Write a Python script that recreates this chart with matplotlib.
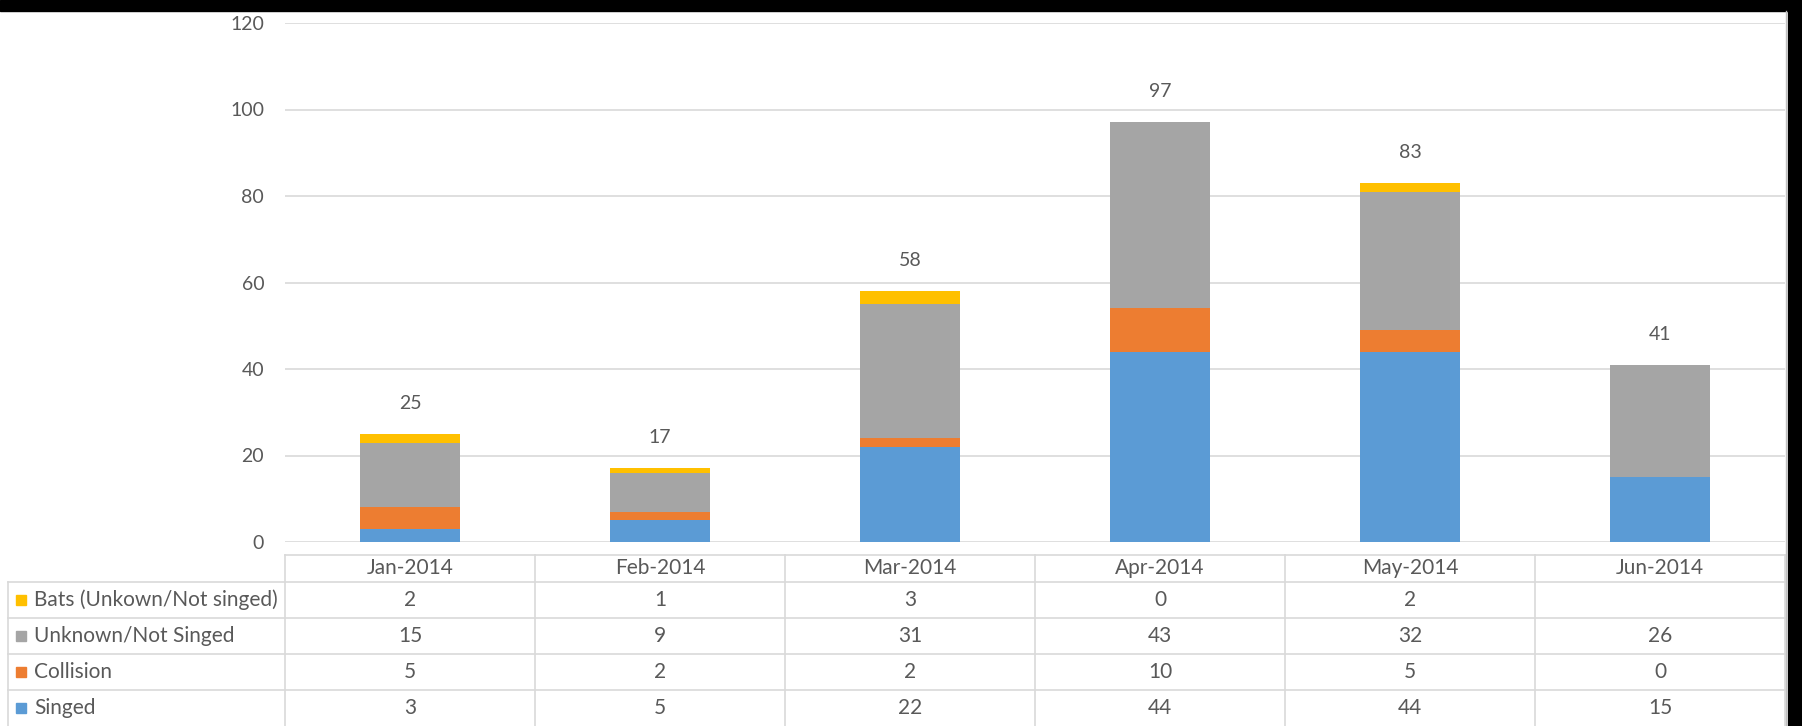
import matplotlib
matplotlib.use("Agg")
import matplotlib.pyplot as plt
import numpy as np

months = ["Jan-2014", "Feb-2014", "Mar-2014", "Apr-2014", "May-2014", "Jun-2014"]
singed = [3, 5, 22, 44, 44, 15]
collision = [5, 2, 2, 10, 5, 0]
unknown = [15, 9, 31, 43, 32, 26]
bats = [2, 1, 3, 0, 2, None]

series_names = ["Singed", "Collision", "Unknown/Not Singed", "Bats (Unkown/Not singed)"]
colors = ["#5B9BD5", "#ED7D31", "#A5A5A5", "#FFC000"]
yticks = [0, 20, 40, 60, 80, 100, 120]

plt.rcParams['font.family'] = ['Lato', 'DejaVu Sans']
W, H = 1802, 726
txt = "#595959"
grid = "#D9D9D9"
fs = 14
fs_tab = 15

fig = plt.figure(figsize=(W / 100, H / 100), dpi=100)
fig.patch.set_facecolor("white")

# pixel layout
x0, x1 = 285, 1785
y_top, y_zero = 23, 542
lab_x = 8
tab_top = 555
head_h = 27
row_h = 36

def fx(px):
    return px / W

def fy(py):
    return 1 - py / H

ax = fig.add_axes([fx(x0), fy(y_zero), fx(x1) - fx(x0), fy(y_top) - fy(y_zero)])
ax.set_xlim(-0.5, len(months) - 0.5)
ax.set_ylim(0, 120)

x = np.arange(len(months))
bottom = np.zeros(len(months))
for name, vals, c in zip(series_names, [singed, collision, unknown, bats], colors):
    v = np.array([0 if a is None else a for a in vals], dtype=float)
    ax.bar(x, v, 0.4, bottom=bottom, color=c, zorder=3)
    bottom += v

for xi, tot in zip(x, bottom):
    ax.annotate(f"{int(tot)}", (xi, tot), xytext=(0, 22), textcoords="offset points",
                ha="center", va="center", fontsize=fs, color=txt)

ax.set_yticks(yticks)
ax.set_yticklabels([str(t) for t in yticks], fontsize=fs, color=txt)
ax.tick_params(axis="y", length=0, pad=15)
ax.set_xticks([])
ax.grid(axis="y", color=grid, lw=1.2, zorder=0)
for s in ax.spines.values():
    s.set_visible(False)

# data table drawn on a pixel canvas
cv = fig.add_axes([0, 0, 1, 1], zorder=-1)
cv.set_xlim(0, W)
cv.set_ylim(H, 0)
cv.axis("off")

col_w = (x1 - x0) / len(months)
rows_order = [("Bats (Unkown/Not singed)", bats, colors[3]),
              ("Unknown/Not Singed", unknown, colors[2]),
              ("Collision", collision, colors[1]),
              ("Singed", singed, colors[0])]
n_rows = len(rows_order)
body_top = tab_top + head_h
bottom_y = body_top + row_h * n_rows

# horizontal lines
cv.plot([x0, x1], [tab_top, tab_top], color=grid, lw=1.2)
for r in range(n_rows):
    yy = body_top + r * row_h
    cv.plot([lab_x, x1], [yy, yy], color=grid, lw=1.2)
# vertical lines
for c in range(len(months) + 1):
    xx = x0 + c * col_w
    cv.plot([xx, xx], [tab_top, bottom_y], color=grid, lw=1.2)
cv.plot([lab_x, lab_x], [body_top, bottom_y], color=grid, lw=1.2)

for c, m in enumerate(months):
    cv.text(x0 + (c + 0.5) * col_w, tab_top + head_h / 2, m, ha="center", va="center",
            fontsize=fs_tab, color=txt)

for r, (name, vals, col) in enumerate(rows_order):
    yc = body_top + (r + 0.5) * row_h
    cv.add_patch(plt.Rectangle((lab_x + 8, yc - 5), 10, 10, color=col))
    cv.text(lab_x + 26, yc, name, ha="left", va="center", fontsize=fs_tab, color=txt)
    for c, v in enumerate(vals):
        if v is None:
            continue
        cv.text(x0 + (c + 0.5) * col_w, yc, str(v), ha="center", va="center",
                fontsize=fs_tab, color=txt)

# dark border of the screenshot
cv.add_patch(plt.Rectangle((0, 0), W, 11, color="black"))
cv.add_patch(plt.Rectangle((1788, 0), W - 1788, H, color="black"))
cv.plot([1786, 1786], [11, H], color="#BFBFBF", lw=1)

fig.savefig("out.png", dpi=100, facecolor="white")
